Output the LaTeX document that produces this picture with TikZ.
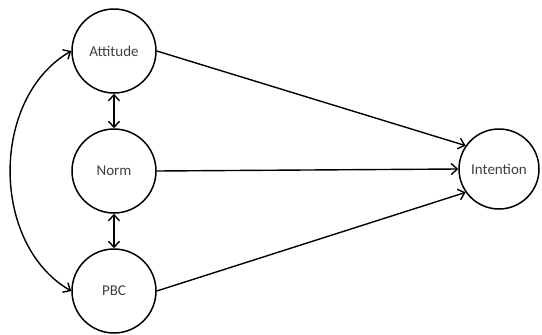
\documentclass[tikz,border=0pt]{standalone}
\usepackage{fontspec}
\setmainfont{Carlito}
\usetikzlibrary{arrows.meta}
\begin{document}
\begin{tikzpicture}[x=1pt,y=-1pt,
  construct/.style={circle,draw=black,line width=1.5pt,minimum size=84pt,inner sep=0pt,
    font=\fontsize{15}{17}\selectfont,text=black!75},
  tip/.style={Straight Barb[length=6pt,width=11pt,line width=1.4pt]},
  link/.style={line width=1.4pt,-{Straight Barb[length=6pt,width=11pt,line width=1.4pt]}},
  dlink/.style={line width=1.4pt,{Straight Barb[length=6pt,width=11pt,line width=1.4pt]}-{Straight Barb[length=6pt,width=11pt,line width=1.4pt]}}]
  \useasboundingbox (0,0) rectangle (542,335);
  \fill[white] (0,0) rectangle (542,335);
  % predictors and outcome
  \node[construct] (att) at (114,51) {Attitude};
  \node[construct] (norm) at (114,171) {Norm};
  \node[construct] (pbc) at (114,291) {PBC};
  \node[construct,minimum size=80pt] (int) at (499,169) {Intention};
  % correlations among predictors
  \draw[dlink] (att.south) -- (norm.north);
  \draw[dlink] (norm.south) -- (pbc.north);
  \draw[dlink] (att.west) to[out=210,in=150] (pbc.west);
  % paths to intention
  \draw[link] (att.east) -- (int.145);
  \draw[link] (norm.east) -- (int.west);
  \draw[link] (pbc.east) -- (int.215);
\end{tikzpicture}
\end{document}
